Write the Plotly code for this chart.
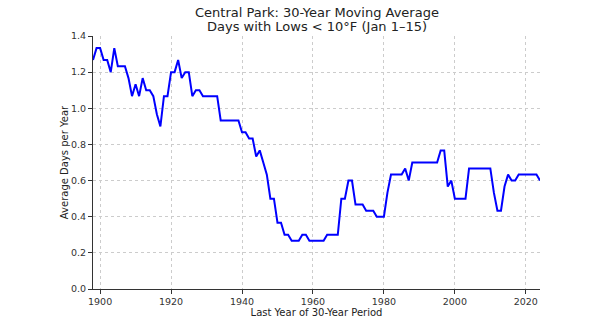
import plotly.graph_objects as go

# Last year of each 30-year window and the average count of Jan 1-15 days with lows < 10°F
years = list(range(1898, 2025))
avg_days = [
    1.267, 1.333, 1.333, 1.267, 1.267, 1.200, 1.333, 1.233, 1.233, 1.233,  # 1898-1907
    1.167, 1.067, 1.133, 1.067, 1.167, 1.100, 1.100, 1.067, 0.967, 0.900,  # 1908-1917
    1.067, 1.067, 1.200, 1.200, 1.267, 1.167, 1.200, 1.200, 1.067, 1.100,  # 1918-1927
    1.100, 1.067, 1.067, 1.067, 1.067, 1.067, 0.933, 0.933, 0.933, 0.933,  # 1928-1937
    0.933, 0.933, 0.867, 0.867, 0.833, 0.833, 0.733, 0.767, 0.700, 0.633,  # 1938-1947
    0.500, 0.500, 0.367, 0.367, 0.300, 0.300, 0.267, 0.267, 0.267, 0.300,  # 1948-1957
    0.300, 0.267, 0.267, 0.267, 0.267, 0.267, 0.300, 0.300, 0.300, 0.300,  # 1958-1967
    0.500, 0.500, 0.600, 0.600, 0.467, 0.467, 0.467, 0.433, 0.433, 0.433,  # 1968-1977
    0.400, 0.400, 0.400, 0.533, 0.633, 0.633, 0.633, 0.633, 0.667, 0.600,  # 1978-1987
    0.700, 0.700, 0.700, 0.700, 0.700, 0.700, 0.700, 0.700, 0.767, 0.767,  # 1988-1997
    0.567, 0.600, 0.500, 0.500, 0.500, 0.500, 0.667, 0.667, 0.667, 0.667,  # 1998-2007
    0.667, 0.667, 0.667, 0.533, 0.433, 0.433, 0.567, 0.633, 0.600, 0.600,  # 2008-2017
    0.633, 0.633, 0.633, 0.633, 0.633, 0.633, 0.600,                       # 2018-2024
]

x_ticks = [1900, 1920, 1940, 1960, 1980, 2000, 2020]
y_ticks = [0.0, 0.2, 0.4, 0.6, 0.8, 1.0, 1.2, 1.4]
title_lines = ["Central Park: 30-Year Moving Average", "Days with Lows < 10°F (Jan 1–15)"]

font_family = "DejaVu Sans"
W, H = 602, 333
ML, MR, MT, MB = 93, 62, 36, 44

fig = go.Figure()
fig.add_trace(go.Scatter(
    x=years, y=avg_days, mode="lines",
    line=dict(color="#0000FF", width=2),
    showlegend=False,
))

axis_common = dict(
    showline=True, linecolor="#333333", linewidth=1,
    ticks="outside", ticklen=4, tickcolor="#333333",
    showgrid=True, gridcolor="#cccccc", griddash="dot", gridwidth=1,
    zeroline=False, mirror=False,
    tickfont=dict(family=font_family, size=9.5, color="#333333"),
    title_font=dict(family=font_family, size=10, color="#222222"),
)

# Two-line title, each line placed by its pixel centre above the plot area
plot_h = H - MT - MB
for line_text, y_px in zip(title_lines, [12, 27]):
    fig.add_annotation(
        text=line_text, showarrow=False,
        xref="paper", x=0.5, xanchor="center",
        yref="paper", y=(H - MB - y_px) / plot_h, yanchor="middle",
        font=dict(family=font_family, size=13, color="#222222"),
    )

fig.update_layout(
    width=W, height=H,
    paper_bgcolor="white", plot_bgcolor="white",
    margin=dict(l=ML, r=MR, t=MT, b=MB),
    xaxis=dict(
        range=[1898, 2024], tickvals=x_ticks,
        title=dict(text="Last Year of 30-Year Period", standoff=2),
        **axis_common,
    ),
    yaxis=dict(
        range=[0, 1.4], tickvals=y_ticks, tickformat=".1f",
        title=dict(text="Average Days per Year", standoff=0),
        **axis_common,
    ),
)

fig.write_html("out.html")
